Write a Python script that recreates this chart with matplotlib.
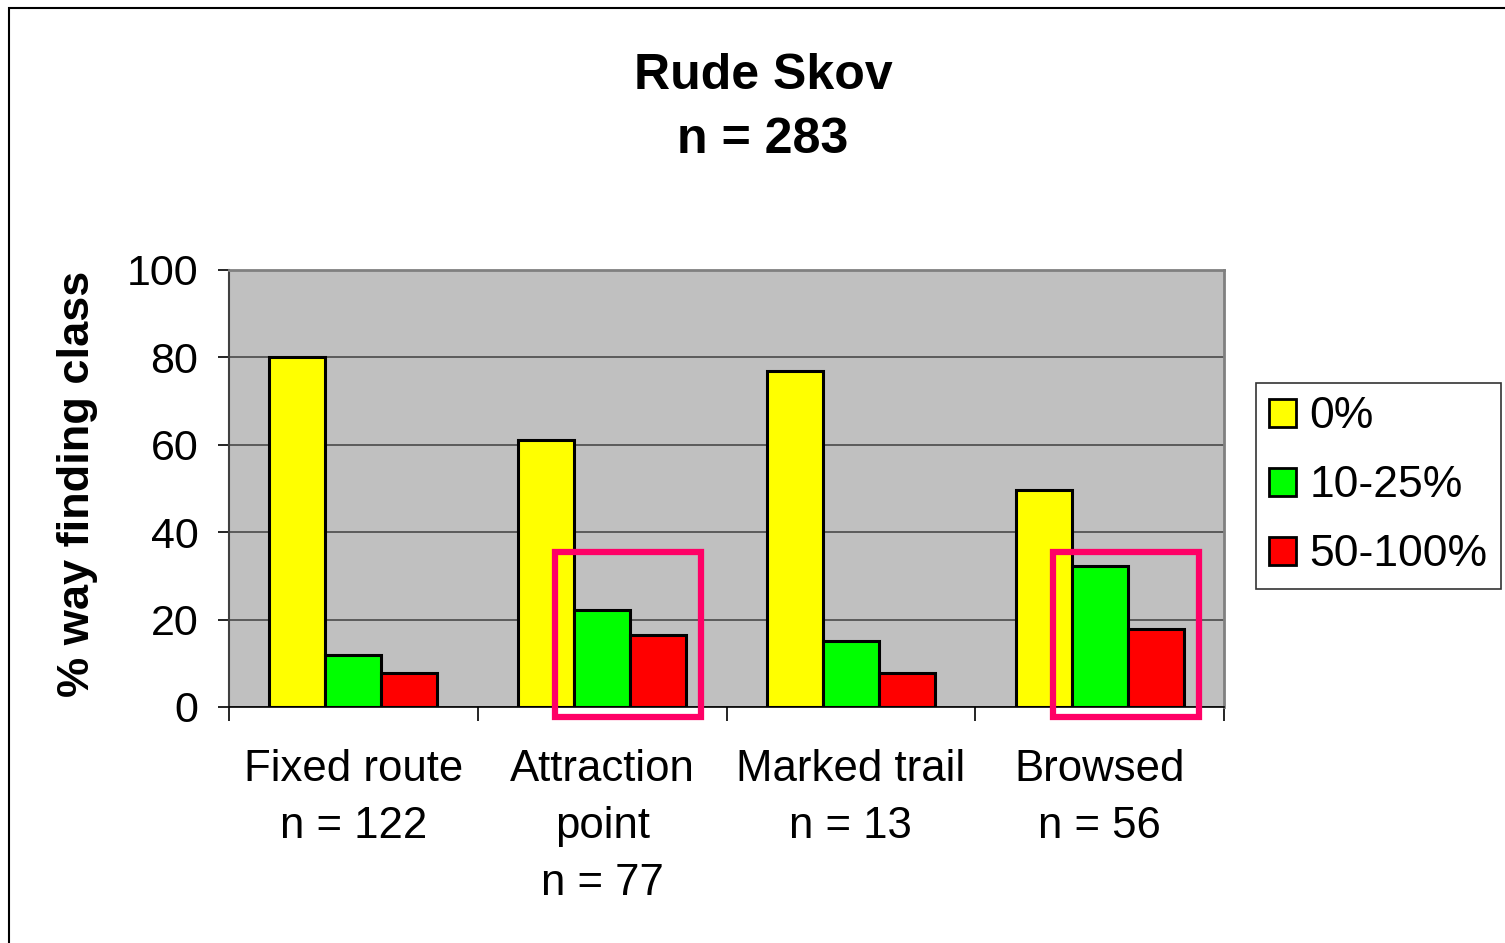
import numpy as np
import matplotlib.pyplot as plt
from matplotlib.patches import Rectangle

plt.rcParams['font.family'] = ['Liberation Sans', 'DejaVu Sans']

categories = ["Fixed route\nn = 122", "Attraction\npoint\nn = 77",
              "Marked trail\nn = 13", "Browsed\nn = 56"]
classes = ["0%", "10-25%", "50-100%"]
zero_pct = [80, 61, 77, 49.7]
low_pct = [12, 22.2, 15, 32.3]
high_pct = [7.8, 16.5, 7.8, 17.8]
colors = ["#FFFF00", "#00FF00", "#FF0000"]
highlighted = [1, 3]   # groups framed in magenta

fig = plt.figure(figsize=(15.05, 9.43), dpi=100)
ax = fig.add_axes([229/1505, 1-707/943, 995/1505, 437/943])
ax.set_facecolor("#C0C0C0")

x = np.arange(len(categories))
w = 0.225
series = [zero_pct, low_pct, high_pct]
for i, (vals, c, lab) in enumerate(zip(series, colors, classes)):
    ax.bar(x + (i - 1) * w, vals, w, color=c, edgecolor="black",
           linewidth=2.2, label=lab, zorder=3)

ax.set_xlim(-0.5, len(categories) - 0.5)
ax.set_ylim(0, 100)
ax.set_yticks(range(0, 101, 20))
ax.grid(axis="y", color="#404040", linewidth=1.1, zorder=1)
ax.tick_params(axis="y", labelsize=31, length=8, width=1.2, pad=14,
               direction="out")
ax.set_xticks(x)
ax.set_xticklabels(categories, fontsize=31.5, linespacing=1.5)
ax.tick_params(axis="x", length=0, pad=30)
ax.set_xticks(np.arange(-0.5, len(categories), 1), minor=True)
ax.tick_params(axis="x", which="minor", length=10, width=1.2)

for s in ["top", "right"]:
    ax.spines[s].set_color("#808080")
    ax.spines[s].set_linewidth(2)
ax.spines["left"].set_color("#404040")
ax.spines["left"].set_linewidth(1.5)
ax.spines["bottom"].set_color("black")
ax.spines["bottom"].set_linewidth(1.2)

ax.set_ylabel("% way finding class", fontsize=32.5, fontweight="bold")
ax.yaxis.set_label_coords(-0.132, 0.51)

# magenta highlight frames round the green and red bars
for g in highlighted:
    left = x[g] - w / 2 - 0.075
    right = x[g] + 1.5 * w + 0.06
    ax.add_patch(Rectangle((left, -2.3), right - left, 37.8, fill=False,
                           edgecolor="#FF0066", linewidth=4.5,
                           clip_on=False, zorder=5))

fig.text(763/1505, 1-53/943, "Rude Skov\nn = 283", ha="center", va="top",
         fontsize=36, fontweight="bold", linespacing=1.5)

leg = fig.legend(loc="center left", bbox_to_anchor=(1256/1505, 1-486/943),
                 fontsize=32, frameon=True, fancybox=False, borderpad=0.3,
                 labelspacing=0.63, handlelength=0.6, handleheight=0.6,
                 handletextpad=0.3, borderaxespad=0)
leg.get_frame().set_edgecolor("black")
leg.get_frame().set_linewidth(1.2)
for h in leg.legend_handles:
    h.set_linewidth(2)

# outer chart border
fig.add_artist(Rectangle((9/1505, -0.1), 1.2, 1.1 - 8/943, fill=False,
                         edgecolor="black", linewidth=1.5,
                         transform=fig.transFigure))

fig.savefig("out.png", dpi=100)
